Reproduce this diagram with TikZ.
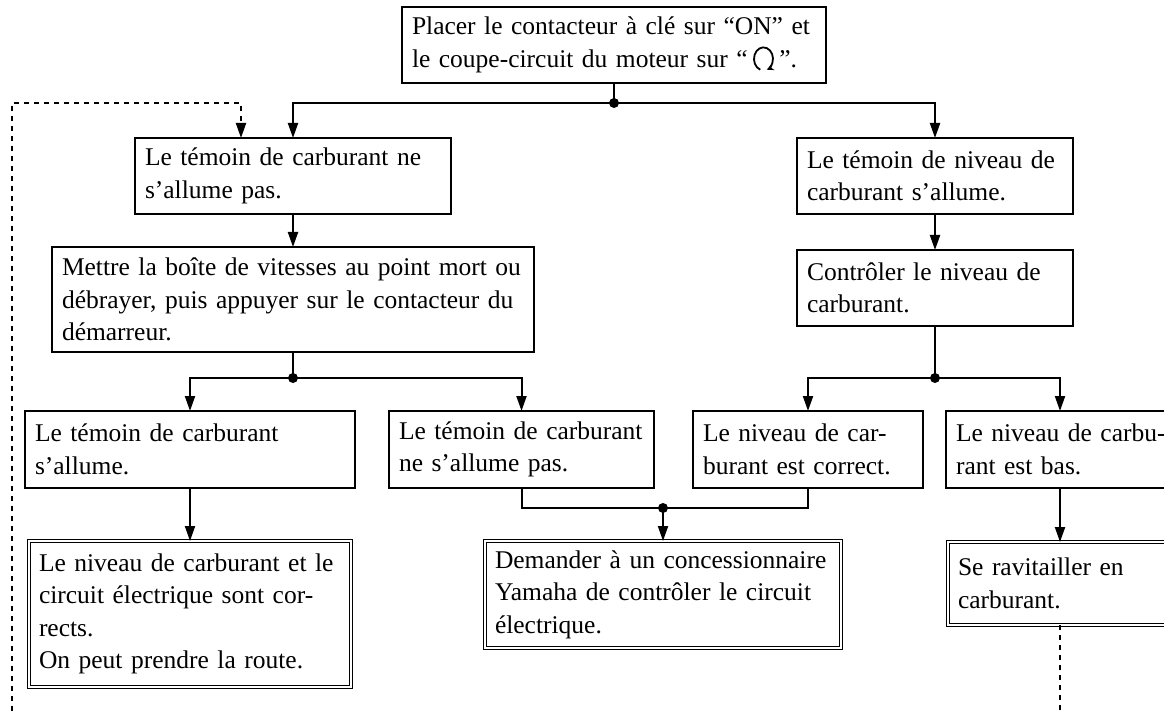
\documentclass[tikz,border=0pt]{standalone}
\usepackage{fontspec}
\setmainfont{Liberation Serif}
\usetikzlibrary{arrows.meta}
\tikzset{
	box/.style={draw, line width=2pt, anchor=north west, align=left, outer sep=0pt, inner xsep=10pt, inner ysep=0pt, font=\fontsize{25.5}{32.5}\selectfont},
	endbox/.style={box, double, double distance=2pt, line width=1.4pt},
	link/.style={line width=2pt},
	flow/.style={link, -{Triangle[length=15pt,width=10pt]}},
	back/.style={link, dash pattern=on 5pt off 5pt},
}
\def\runmark{\tikz[x=1pt,y=1pt,baseline=0pt]\draw[line width=1.8pt,-{Stealth[length=7pt,width=7pt]}] (4.75,-2.3) arc[start angle=250,end angle=-70,x radius=9.5,y radius=11.5];}

\begin{document}
\begin{tikzpicture}[x=1pt, y=-1pt]
			%%%%% START %%%%%
			\useasboundingbox (0,0) rectangle (1164,711);
			\clip (0,0) rectangle (1164,711);
			
			\node[box, text width=404, minimum height=76] (start) at (402,7) {Placer le contacteur à clé sur “ON” et\\le coupe-circuit du moteur sur “\,\runmark\,”.};
			
			\node[box, text width=296, minimum height=76] (noLight) at (135,138) {Le témoin de carburant ne\\s’allume pas.};
			\node[box, text width=256, minimum height=76] (light) at (797,138) {Le témoin de niveau de\\carburant s’allume.};
			
			\node[box, text width=462, minimum height=105] (neutral) at (52,247) {Mettre la boîte de vitesses au point mort ou\\débrayer, puis appuyer sur le contacteur du\\démarreur.};
			\node[box, text width=256, minimum height=76] (checkLevel) at (797,250) {Contrôler le niveau de\\carburant.};
			
			\node[box, text width=310, minimum height=77] (lightOn) at (25,411) {Le témoin de carburant\\s’allume.};
			\node[box, text width=245, minimum height=77] (stillOff) at (389,411) {Le témoin de carburant\\ne s’allume pas.};
			\node[box, text width=210, minimum height=77] (levelOk) at (693,411) {Le niveau de car-\\burant est correct.};
			\node[box, text width=208, minimum height=77] (levelLow) at (946,411) {\mbox{Le niveau de carbu-}\\rant est bas.};
			
			\node[endbox, text width=302, minimum height=146] (ready) at (29,541) {Le niveau de carburant et le\\circuit électrique sont cor-\\rects.\\On peut prendre la route.};
			\node[endbox, text width=336, minimum height=107] (dealer) at (485,541) {Demander à un concessionnaire\\Yamaha de contrôler le circuit\\électrique.};
			\node[endbox, text width=204, minimum height=83] (refuel) at (948,542) {Se ravitailler en\\carburant.};
			
			\coordinate (j1) at (614,103);
			\coordinate (j2) at (293,378);
			\coordinate (j3) at (663,508);
			\coordinate (j4) at (935,378);
			\coordinate (back) at (241,103);
			\coordinate (loopL) at (12,711);
			\coordinate (loopR) at (1060,711);
			
			\draw[link] (start.south) -- (j1);
			\draw[flow] (j1) -| (noLight.north);
			\draw[flow] (j1) -| (light.north);
			\draw[flow] (noLight.south) -- (neutral.north);
			\draw[flow] (light.south) -- (checkLevel.north);
			
			\draw[link] (neutral.south) -- (j2);
			\draw[flow] (j2) -| (lightOn.north);
			\draw[flow] (j2) -| (stillOff.north);
			\draw[link] (checkLevel.south) -- (j4);
			\draw[flow] (j4) -| (levelOk.north);
			\draw[flow] (j4) -| (levelLow.north);
			
			\draw[link] (stillOff.south) |- (j3) -| (levelOk.south);
			\draw[flow] (j3) -- (dealer.north);
			\draw[flow] (lightOn.south) -- (ready.north);
			\draw[flow] (levelLow.south) -- (refuel.north);
			
			\draw[back] (refuel.south) -- (loopR);
			\draw[back, -{Triangle[length=15pt,width=10pt]}] (loopL) |- (back) -- (back |- noLight.north);
			
			\fill (j1) circle (5);
			\fill (j2) circle (5);
			\fill (j3) circle (5);
			\fill (j4) circle (5);
			%%%%% END %%%%%
\end{tikzpicture}
\end{document}
